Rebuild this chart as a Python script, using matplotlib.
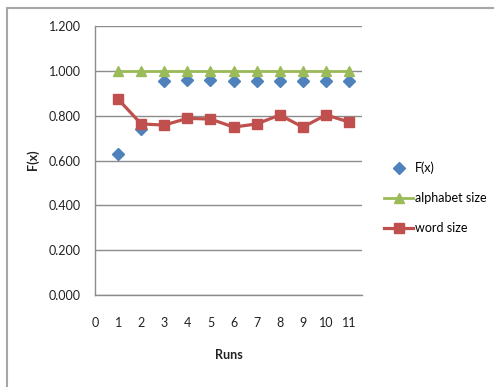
import matplotlib
matplotlib.use('Agg')
from matplotlib import pyplot as plt
from matplotlib.patches import Rectangle

plt.rcParams['font.family'] = ['Lato', 'DejaVu Sans']

runs = [1, 2, 3, 4, 5, 6, 7, 8, 9, 10, 11]
fx = [0.628, 0.739, 0.956, 0.958, 0.958, 0.956, 0.955, 0.953, 0.956, 0.955, 0.955]
alphabet_size = [1.000, 1.000, 1.000, 1.000, 1.000, 1.000, 1.000, 1.000, 1.000, 1.000, 1.000]
word_size = [0.874, 0.763, 0.758, 0.788, 0.785, 0.749, 0.763, 0.803, 0.749, 0.803, 0.772]
y_ticks = [0.0, 0.2, 0.4, 0.6, 0.8, 1.0, 1.2]
x_ticks = [0, 1, 2, 3, 4, 5, 6, 7, 8, 9, 10, 11]

grey = '#8c8c8c'

fig = plt.figure(figsize=(4.94, 3.87), dpi=100)
ax = fig.add_axes([95/494, 1 - 295/387, (362 - 95)/494, (295 - 26)/387])

ax.plot(runs, fx, linestyle='none', marker='D', markersize=6, color='#4f81bd', label='F(x)', zorder=3)
ax.plot(runs, alphabet_size, marker='^', markersize=7.5, linewidth=2, color='#9bbb59', label='alphabet size', zorder=4)
ax.plot(runs, word_size, marker='s', markersize=7.5, linewidth=2.3, color='#c0504d', label='word size', zorder=5)

ax.set_xlim(0, 11.56)
ax.set_ylim(0, 1.2)
ax.set_xticks(x_ticks)
ax.set_yticks(y_ticks)
ax.set_yticklabels([f'{v:.3f}' for v in y_ticks])
ax.tick_params(length=0, labelsize=9, colors='#222222')
ax.tick_params(axis='y', pad=10)
ax.tick_params(axis='x', pad=16)

ax.grid(axis='y', color=grey, linewidth=1)
ax.set_axisbelow(True)
for side in ['top', 'right']:
    ax.spines[side].set_visible(False)
for side in ['left', 'bottom']:
    ax.spines[side].set_color(grey)
    ax.spines[side].set_linewidth(1)

fig.text(33/494, 1 - 160/387, 'F(x)', rotation=90, ha='center', va='center',
         fontsize=9, fontweight='bold', color='#222222')
fig.text(229/494, 1 - 355/387, 'Runs', ha='center', va='center',
         fontsize=9, fontweight='bold', color='#222222')

fig.legend(loc='center left', bbox_to_anchor=(373/494, 1 - 198/387), frameon=False,
           fontsize=9, labelspacing=1.45, handlelength=2.3, handletextpad=0.15)

# outer chart border, running off the right and bottom edges
fig.patches.append(Rectangle((7/494, -0.1), 1.0, 1.1 - 8/387, transform=fig.transFigure,
                             fill=False, edgecolor='#a6a6a6', linewidth=1.5))

fig.savefig('out.png', dpi=100)
